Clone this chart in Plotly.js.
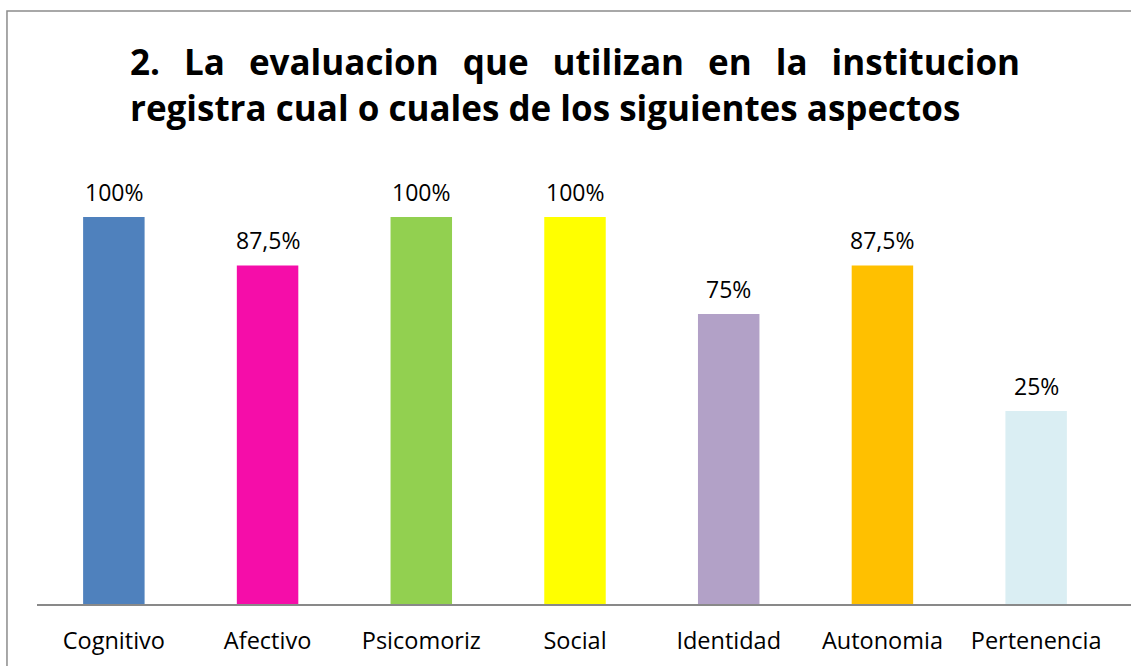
<!DOCTYPE html>
<html>
<head>
<meta charset="utf-8">
<script src="https://cdn.plot.ly/plotly-3.0.1.min.js"></script>
<style>html,body{margin:0;padding:0;background:#fff;}#chart{width:1131px;height:666px;}</style>
</head>
<body>
<div id="chart"></div>
<script>
const categories = ["Cognitivo", "Afectivo", "Psicomoriz", "Social", "Identidad", "Autonomia", "Pertenencia"];
const barHeights = [100, 87.5, 100, 100, 75, 87.5, 50];
const valueLabels = ["100%", "87,5%", "100%", "100%", "75%", "87,5%", "25%"];
const barColors = ["#4F81BD", "#F50DA9", "#92D050", "#FFFF00", "#B2A1C7", "#FFC000", "#DAEEF3"];
const titleLine1 = ["2.", "La", "evaluacion", "que", "utilizan", "en", "la", "institucion"];
const titleLine2 = "registra cual o cuales de los siguientes aspectos";

const FONT = "Open Sans, Noto Sans, sans-serif";
const GAP = "\u00A0\u00A0\u2009";

const trace = {
  type: "bar",
  x: categories,
  y: barHeights,
  marker: { color: barColors, line: { width: 0 } },
  hoverinfo: "none"
};

const annotations = categories.map((c, i) => ({
  x: c, y: barHeights[i], xref: "x", yref: "y",
  text: valueLabels[i], showarrow: false,
  yanchor: "bottom", yshift: 7,
  font: { family: FONT, size: 23, color: "#000" }
}));

const layout = {
  width: 1131, height: 666,
  paper_bgcolor: "#fff", plot_bgcolor: "#fff",
  margin: { l: 37, r: 18, t: 170, b: 61, pad: 0 },
  showlegend: false,
  bargap: 0.6,
  title: {
    text: "<b>" + titleLine1.join(GAP) + "</b><br><b>" + titleLine2 + "</b>",
    x: 130 / 1131, xref: "container", xanchor: "left",
    y: 1 - 75 / 666, yref: "container", yanchor: "top",
    font: { family: FONT, size: 35, color: "#000" }
  },
  xaxis: {
    type: "category",
    showline: false, showgrid: false, zeroline: false, ticks: "",
    tickfont: { family: FONT, size: 23.5, color: "#000" },
    ticklabelstandoff: 19
  },
  yaxis: {
    range: [0, 112.1],
    visible: false, showgrid: false, zeroline: false
  },
  annotations: annotations,
  shapes: [
    { type: "line", xref: "paper", yref: "paper", x0: 0, x1: 1.05, y0: 0, y1: 0,
      line: { color: "#898989", width: 2 } },
    { type: "rect", xref: "paper", yref: "paper", x0: -0.0279, x1: 1.1, y0: -0.3, y1: 1.3655,
      line: { color: "#8C8C8C", width: 1.5 }, fillcolor: "rgba(0,0,0,0)", layer: "below" }
  ]
};

Plotly.newPlot("chart", [trace], layout, { displayModeBar: false, staticPlot: true });
</script>
</body>
</html>
